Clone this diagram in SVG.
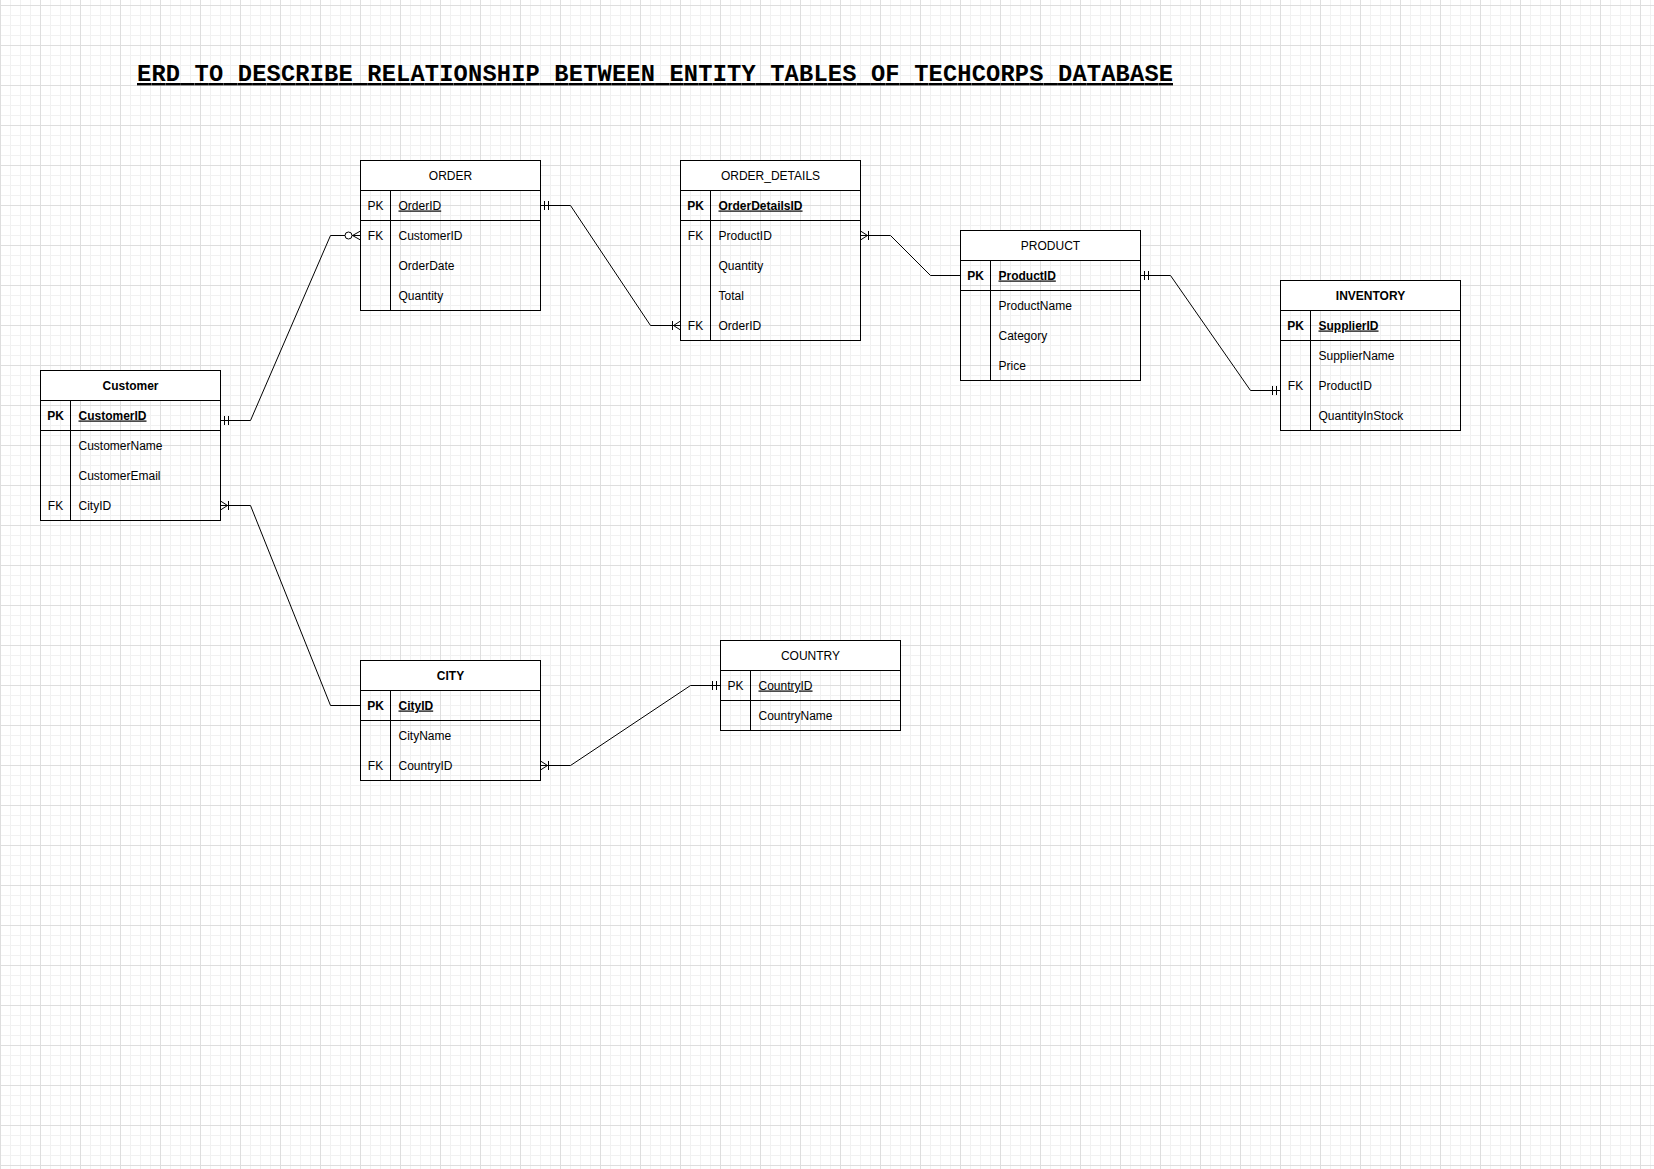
<svg xmlns="http://www.w3.org/2000/svg" width="1654" height="1169" viewBox="0 0 1654 1169">
<style>
  .frame { fill: none; stroke: #000; stroke-width: 1; }
  .head { fill: #fff; stroke: #000; stroke-width: 1; }
  .sep { stroke: #000; stroke-width: 1; fill: none; }
  .t { font-family: "Liberation Sans", Arial, Helvetica, sans-serif; font-size: 12px; fill: #000; }
  .hd { text-anchor: middle; }
  .b { font-weight: bold; }
  .u { text-decoration: underline; }
  .key { text-anchor: middle; }
  .conn { fill: none; stroke: #000; stroke-width: 1; }
  .title { font-family: "Liberation Mono", "Courier New", monospace; font-size: 23.7px; font-weight: bold; fill: #000; text-decoration: underline; }
</style>
<defs>
  <pattern id="grid" patternUnits="userSpaceOnUse" x="0" y="5" width="40" height="40">
    <rect x="10" y="0" width="1" height="40" fill="#f1f1f1"/>
    <rect x="20" y="0" width="1" height="40" fill="#f1f1f1"/>
    <rect x="30" y="0" width="1" height="40" fill="#f1f1f1"/>
    <rect x="0" y="10" width="40" height="1" fill="#f1f1f1"/>
    <rect x="0" y="20" width="40" height="1" fill="#f1f1f1"/>
    <rect x="0" y="30" width="40" height="1" fill="#f1f1f1"/>
    <rect x="0" y="0" width="1" height="40" fill="#dedede"/>
    <rect x="0" y="0" width="40" height="1" fill="#dedede"/>
  </pattern>
  <marker id="mandOne" markerUnits="userSpaceOnUse" viewBox="-14 -7 15 14" refX="0" refY="0" markerWidth="15" markerHeight="14" orient="auto-start-reverse" overflow="visible">
    <path d="M-4,-4.5 V4.5 M-8,-4.5 V4.5" fill="none" stroke="#000" stroke-width="1"/>
  </marker>
  <marker id="oneMany" markerUnits="userSpaceOnUse" viewBox="-14 -7 15 14" refX="0" refY="0" markerWidth="15" markerHeight="14" orient="auto-start-reverse" overflow="visible">
    <path d="M0,-4.5 L-7,0 L0,4.5 M-8,-4.5 V4.5" fill="none" stroke="#000" stroke-width="1"/>
  </marker>
  <marker id="zeroMany" markerUnits="userSpaceOnUse" viewBox="-18 -7 19 14" refX="0" refY="0" markerWidth="19" markerHeight="14" orient="auto-start-reverse" overflow="visible">
    <path d="M0,-4.5 L-8,0 L0,4.5" fill="none" stroke="#000" stroke-width="1"/>
    <circle cx="-12" cy="0" r="3.5" fill="#fff" stroke="#000" stroke-width="1"/>
  </marker>
</defs>

<rect x="0" y="0" width="1654" height="1169" fill="#fff"/>
<rect x="0" y="0" width="1654" height="1169" fill="url(#grid)"/>

<text id="title" class="title" x="137" y="81" textLength="1036" lengthAdjust="spacing">ERD TO DESCRIBE RELATIONSHIP BETWEEN ENTITY TABLES OF TECHCORPS DATABASE</text>

<g id="connectors">
  <path class="conn" d="M220.5,420.5 H250.5 L330.5,235.5 H360.5" marker-start="url(#mandOne)" marker-end="url(#zeroMany)"/>
  <path class="conn" d="M540.5,205.5 H570.5 L650.5,325.5 H680.5" marker-start="url(#mandOne)" marker-end="url(#oneMany)"/>
  <path class="conn" d="M860.5,235.5 H890.5 L930.5,275.5 H960.5" marker-start="url(#oneMany)"/>
  <path class="conn" d="M1140.5,275.5 H1170.5 L1250.5,390.5 H1280.5" marker-start="url(#mandOne)" marker-end="url(#mandOne)"/>
  <path class="conn" d="M220.5,505.5 H250.5 L330.5,705.5 H360.5" marker-start="url(#oneMany)"/>
  <path class="conn" d="M540.5,765.5 H570.5 L690.5,685.5 H720.5" marker-start="url(#oneMany)" marker-end="url(#mandOne)"/>
</g>

<g id="customer" transform="translate(40.5,370.5)">
  <rect class="head" x="0" y="0" width="180" height="30"/>
  <rect class="frame" x="0" y="0" width="180" height="150"/>
  <path class="sep" d="M0,60 H180 M30,30 V150"/>
  <text class="t hd b" x="90" y="19">Customer</text>
  <text class="t key b" x="15" y="49">PK</text>
  <text class="t b u" x="38" y="49">CustomerID</text>
  <text class="t" x="38" y="79">CustomerName</text>
  <text class="t" x="38" y="109">CustomerEmail</text>
  <text class="t key" x="15" y="139">FK</text>
  <text class="t" x="38" y="139">CityID</text>
</g>

<g id="order" transform="translate(360.5,160.5)">
  <rect class="head" x="0" y="0" width="180" height="30"/>
  <rect class="frame" x="0" y="0" width="180" height="150"/>
  <path class="sep" d="M0,60 H180 M30,30 V150"/>
  <text class="t hd" x="90" y="19">ORDER</text>
  <text class="t key" x="15" y="49">PK</text>
  <text class="t u" x="38" y="49">OrderID</text>
  <text class="t key" x="15" y="79">FK</text>
  <text class="t" x="38" y="79">CustomerID</text>
  <text class="t" x="38" y="109">OrderDate</text>
  <text class="t" x="38" y="139">Quantity</text>
</g>

<g id="order_details" transform="translate(680.5,160.5)">
  <rect class="head" x="0" y="0" width="180" height="30"/>
  <rect class="frame" x="0" y="0" width="180" height="180"/>
  <path class="sep" d="M0,60 H180 M30,30 V180"/>
  <text class="t hd" x="90" y="19">ORDER_DETAILS</text>
  <text class="t key b" x="15" y="49">PK</text>
  <text class="t b u" x="38" y="49">OrderDetailsID</text>
  <text class="t key" x="15" y="79">FK</text>
  <text class="t" x="38" y="79">ProductID</text>
  <text class="t" x="38" y="109">Quantity</text>
  <text class="t" x="38" y="139">Total</text>
  <text class="t key" x="15" y="169">FK</text>
  <text class="t" x="38" y="169">OrderID</text>
</g>

<g id="product" transform="translate(960.5,230.5)">
  <rect class="head" x="0" y="0" width="180" height="30"/>
  <rect class="frame" x="0" y="0" width="180" height="150"/>
  <path class="sep" d="M0,60 H180 M30,30 V150"/>
  <text class="t hd" x="90" y="19">PRODUCT</text>
  <text class="t key b" x="15" y="49">PK</text>
  <text class="t b u" x="38" y="49">ProductID</text>
  <text class="t" x="38" y="79">ProductName</text>
  <text class="t" x="38" y="109">Category</text>
  <text class="t" x="38" y="139">Price</text>
</g>

<g id="inventory" transform="translate(1280.5,280.5)">
  <rect class="head" x="0" y="0" width="180" height="30"/>
  <rect class="frame" x="0" y="0" width="180" height="150"/>
  <path class="sep" d="M0,60 H180 M30,30 V150"/>
  <text class="t hd b" x="90" y="19">INVENTORY</text>
  <text class="t key b" x="15" y="49">PK</text>
  <text class="t b u" x="38" y="49">SupplierID</text>
  <text class="t" x="38" y="79">SupplierName</text>
  <text class="t key" x="15" y="109">FK</text>
  <text class="t" x="38" y="109">ProductID</text>
  <text class="t" x="38" y="139">QuantityInStock</text>
</g>

<g id="city" transform="translate(360.5,660.5)">
  <rect class="head" x="0" y="0" width="180" height="30"/>
  <rect class="frame" x="0" y="0" width="180" height="120"/>
  <path class="sep" d="M0,60 H180 M30,30 V120"/>
  <text class="t hd b" x="90" y="19">CITY</text>
  <text class="t key b" x="15" y="49">PK</text>
  <text class="t b u" x="38" y="49">CityID</text>
  <text class="t" x="38" y="79">CityName</text>
  <text class="t key" x="15" y="109">FK</text>
  <text class="t" x="38" y="109">CountryID</text>
</g>

<g id="country" transform="translate(720.5,640.5)">
  <rect class="head" x="0" y="0" width="180" height="30"/>
  <rect class="frame" x="0" y="0" width="180" height="90"/>
  <path class="sep" d="M0,60 H180 M30,30 V90"/>
  <text class="t hd" x="90" y="19">COUNTRY</text>
  <text class="t key" x="15" y="49">PK</text>
  <text class="t u" x="38" y="49">CountryID</text>
  <text class="t" x="38" y="79">CountryName</text>
</g>
</svg>
